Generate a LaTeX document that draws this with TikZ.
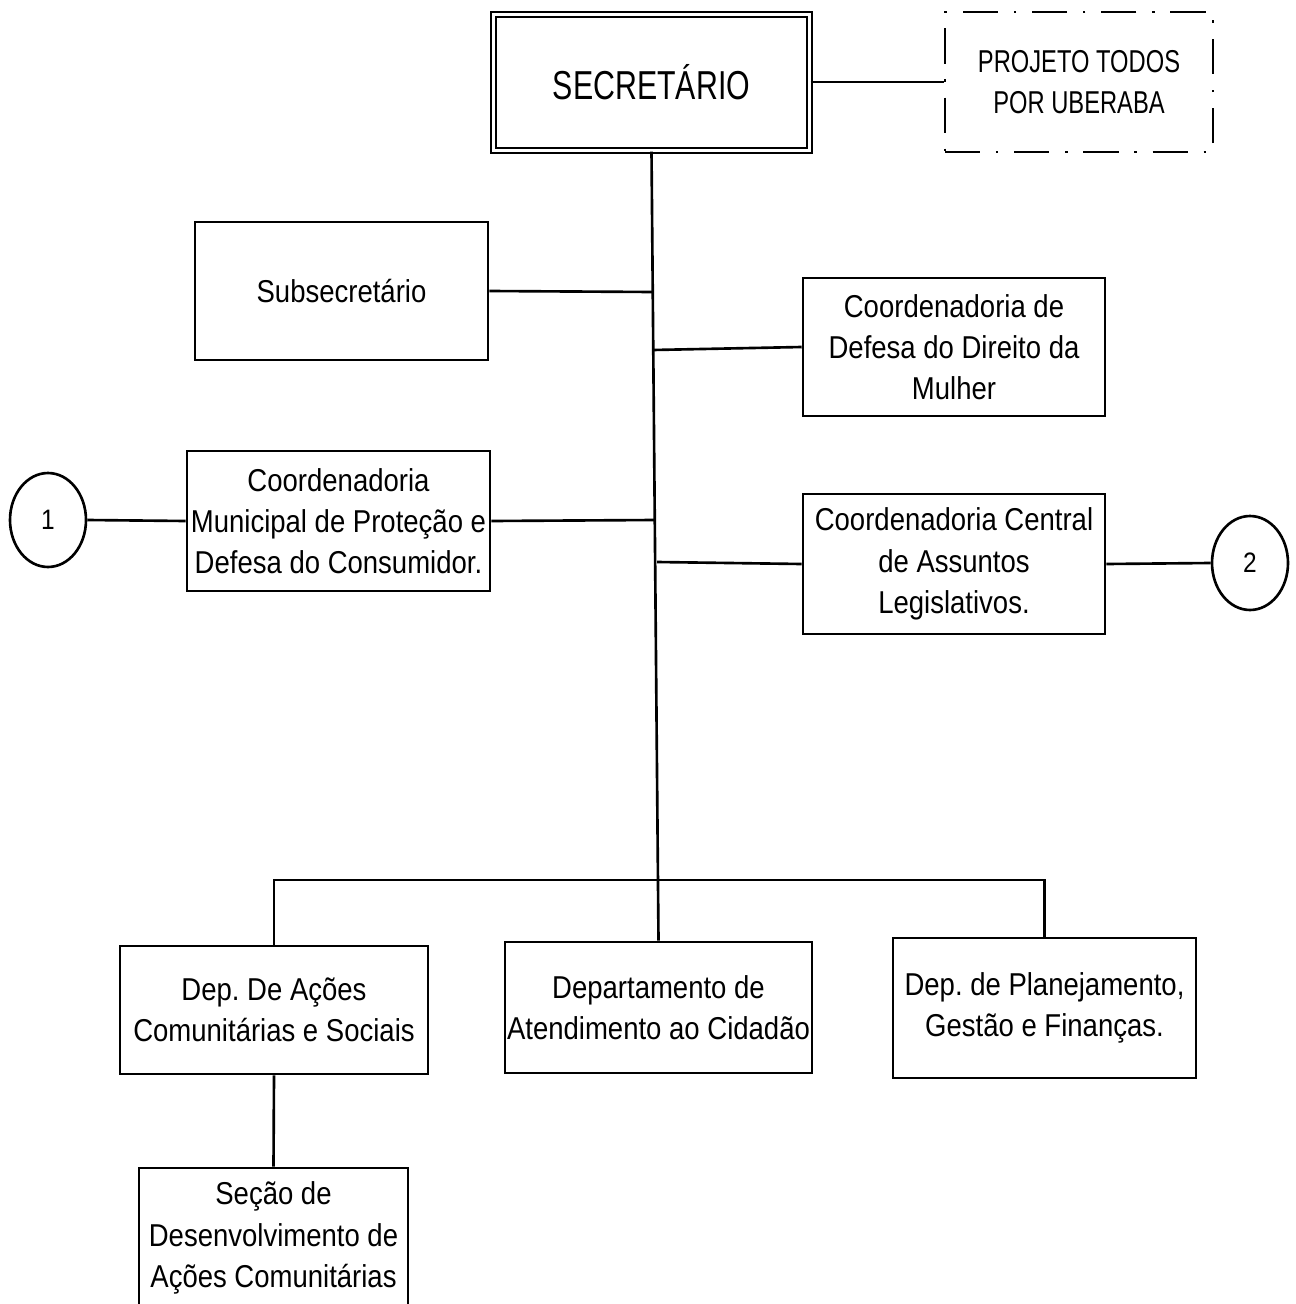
\documentclass[tikz,border=0pt]{standalone}
\usepackage{fontspec}
\setmainfont[FakeStretch=0.87]{Liberation Sans}
\newfontfamily\estreita[FakeStretch=0.75]{Liberation Sans}
\frenchspacing
\usetikzlibrary{shapes.geometric}

\begin{document}
\begin{tikzpicture}[x=0.02cm,y=-0.02cm,line width=1.5pt,
    caixa/.style={draw,rectangle,inner sep=0pt,align=center,
      font=\fontsize{18}{23.5}\selectfont},
    circulo/.style={draw,ellipse,inner sep=0pt,minimum width=1.52cm,
      minimum height=1.88cm,font=\fontsize{16}{19}\selectfont}]
        \useasboundingbox (0,0) rectangle (1295,1304);
        % topo
        \node[caixa,double,line width=1.1pt,double distance=1.6pt,
          minimum width=6.33cm,minimum height=2.73cm,
          font=\estreita\fontsize{23}{27}\selectfont] (sec) at (651.5,82.5) {SECRETÁRIO};
        \node[caixa,line width=1.4pt,dash pattern=on 20pt off 9pt on 1.4pt off 9pt,
          minimum width=5.36cm,minimum height=2.8cm,
          font=\fontsize{18}{23.5}\estreita] (proj) at (1079,82) {PROJETO TODOS\\POR UBERABA};
        \draw (sec.east |- proj.west) -- (proj.west);
        % coordenadorias
        \node[caixa,minimum width=5.86cm,minimum height=2.76cm] (sub) at (341.5,291) {Subsecretário};
        \node[caixa,minimum width=6.04cm,minimum height=2.76cm] (mulher) at (954,347) {Coordenadoria de\\Defesa do Direito da\\Mulher};
        \node[caixa,minimum width=6.06cm,minimum height=2.8cm] (consum) at (338.5,521) {Coordenadoria\\Municipal de Proteção e\\Defesa do Consumidor.};
        \node[caixa,minimum width=6.04cm,minimum height=2.8cm] (legis) at (954,564) {Coordenadoria Central\\de Assuntos\\Legislativos.};
        \node[circulo] (c1) at (48,520) {1};
        \node[circulo] (c2) at (1250,563) {2};
        % departamentos
        \node[caixa,minimum width=6.16cm,minimum height=2.56cm] (acoes) at (274,1010) {Dep. De Ações\\Comunitárias e Sociais};
        \node[caixa,minimum width=6.14cm,minimum height=2.62cm] (atend) at (658.5,1007.5) {Departamento de\\Atendimento ao Cidadão};
        \node[caixa,minimum width=6.06cm,minimum height=2.8cm] (plan) at (1044.5,1008) {Dep. de Planejamento,\\Gestão e Finanças.};
        \node[caixa,minimum width=5.38cm,minimum height=2.8cm] (secao) at (273.5,1238) {Seção de\\Desenvolvimento de\\Ações Comunitárias};
        % pontos no tronco
        \coordinate (j1) at (653,292);
        \coordinate (j2) at (653,350);
        \coordinate (j3) at (655,520);
        \coordinate (j4) at (657,562);
        \coordinate (barL) at (274,880);
        \coordinate (barR) at (1044.5,880);
        % ligacoes
        \draw (sec.south) -- (atend.north);
        \draw (sub.east) -- (j1);
        \draw (j2) -- (mulher.west);
        \draw (consum.east) -- (j3);
        \draw (j4) -- (legis.west);
        \draw (c1.east) -- (consum.west);
        \draw (legis.east) -- (c2.west);
        \draw (acoes.north) -- (barL) -- (barR) -- (plan.north);
        \draw (acoes.south) -- (secao.north);
\end{tikzpicture}
\end{document}
